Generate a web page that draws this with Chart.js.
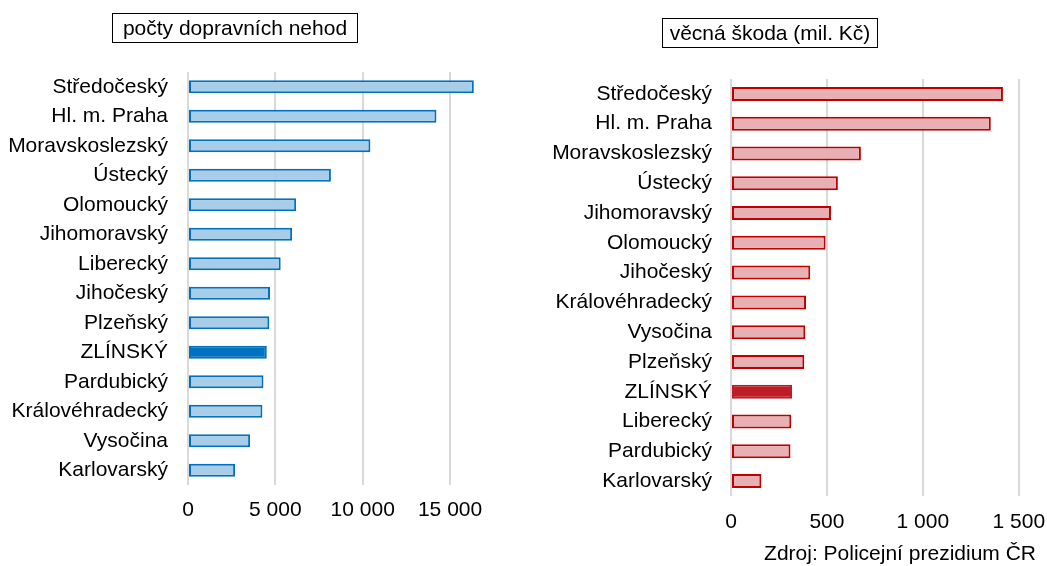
<!DOCTYPE html>
<html>
<head>
<meta charset="utf-8">
<script src="https://cdn.jsdelivr.net/npm/chart.js@4"></script>
<style>
  body { margin: 0; background: #fff; font-family: "Liberation Sans", Arial, sans-serif; }
  #wrap { position: relative; width: 1047px; height: 566px; }
  .box { position: absolute; box-sizing: border-box; border: 1.5px solid #000; font-size: 21px; height: 30px; line-height: 27px; text-align: center; color: #000; white-space: nowrap; }
  #leftCanvas { position: absolute; left: 0; top: 0; }
  #rightCanvas { position: absolute; left: 520px; top: 0; }
  #source { position: absolute; right: 11px; top: 541px; font-size: 21px; line-height: 24px; color: #000; }
</style>
</head>
<body>
<div id="wrap">
  <canvas id="leftCanvas" width="520" height="566"></canvas>
  <canvas id="rightCanvas" width="527" height="566"></canvas>
  <div class="box" style="left:112px; top:13px; width:246px;">počty dopravních nehod</div>
  <div class="box" style="left:662px; top:18px; width:216px;">věcná škoda (mil. Kč)</div>
  <div id="source">Zdroj: Policejní prezidium ČR</div>
</div>
<script>
// počty dopravních nehod
const regionsAccidents = ['Středočeský', 'Hl. m. Praha', 'Moravskoslezský', 'Ústecký', 'Olomoucký', 'Jihomoravský',
    'Liberecký', 'Jihočeský', 'Plzeňský', 'ZLÍNSKÝ', 'Pardubický', 'Královéhradecký', 'Vysočina', 'Karlovarský'];
const accidents = [16360, 14220, 10440, 8180, 6190, 5960, 5305, 4695, 4655, 4510, 4320, 4260, 3555, 2695];
const accidentTicks = [0, 5000, 10000, 15000];

// věcná škoda (mil. Kč)
const regionsDamage = ['Středočeský', 'Hl. m. Praha', 'Moravskoslezský', 'Ústecký', 'Jihomoravský', 'Olomoucký',
    'Jihočeský', 'Královéhradecký', 'Vysočina', 'Plzeňský', 'ZLÍNSKÝ', 'Liberecký', 'Pardubický', 'Karlovarský'];
const damage = [1417, 1354, 677, 557, 521, 493, 413, 391, 387, 382, 318, 314, 310, 158];
const damageTicks = [0, 500, 1000, 1500];

const highlight = 'ZLÍNSKÝ';
Chart.defaults.font.family = '"Liberation Sans", Arial, sans-serif';
Chart.defaults.color = '#000';

function fmt(v) {
    return String(v).replace(/\B(?=(\d{3})+(?!\d))/g, ' ');
}

function makeChart(canvasId, labels, values, tickValues, max, colors, geom) {
    return new Chart(document.getElementById(canvasId), {
        type: 'bar',
        data: {
            labels: labels,
            datasets: [{
                data: values,
                backgroundColor: labels.map(l => l === highlight ? colors.strong : colors.light),
                borderColor: labels.map(l => l === highlight ? colors.strong : colors.border),
                borderWidth: 2,
                borderSkipped: false,
                barPercentage: geom.barPct,
                categoryPercentage: 1
            }]
        },
        options: {
            indexAxis: 'y',
            responsive: false,
            animation: false,
            layout: { padding: { top: geom.top, right: geom.right, bottom: 0, left: 0 } },
            plugins: { legend: { display: false }, tooltip: { enabled: false } },
            scales: {
                x: {
                    min: 0,
                    max: max,
                    afterBuildTicks: s => { s.ticks = tickValues.map(v => ({ value: v })); },
                    afterFit: s => { s.height = geom.xHeight; s.paddingLeft = 0; s.paddingRight = 0; },
                    grid: { color: '#d9d9d9', lineWidth: 2, drawTicks: false },
                    border: { display: false },
                    ticks: { font: { size: 21 }, padding: geom.xPad, callback: v => fmt(v) }
                },
                y: {
                    afterFit: s => { s.width = geom.yWidth; },
                    grid: { display: false, drawTicks: false },
                    border: { display: false },
                    ticks: { font: { size: 21 }, padding: geom.yPad }
                }
            }
        }
    });
}

makeChart('leftCanvas', regionsAccidents, accidents, accidentTicks, 17000,
    { light: '#a7cde9', border: '#0070c0', strong: '#0070c0' },
    { barPct: 0.44, top: 72, right: 35, xHeight: 81, yWidth: 188, xPad: 13, yPad: 20 });

makeChart('rightCanvas', regionsDamage, damage, damageTicks, 1600,
    { light: '#e7b0b4', border: '#c00000', strong: '#c01c28' },
    { barPct: 0.47, top: 79, right: 9, xHeight: 70, yWidth: 211, xPad: 14, yPad: 19 });
</script>
</body>
</html>
